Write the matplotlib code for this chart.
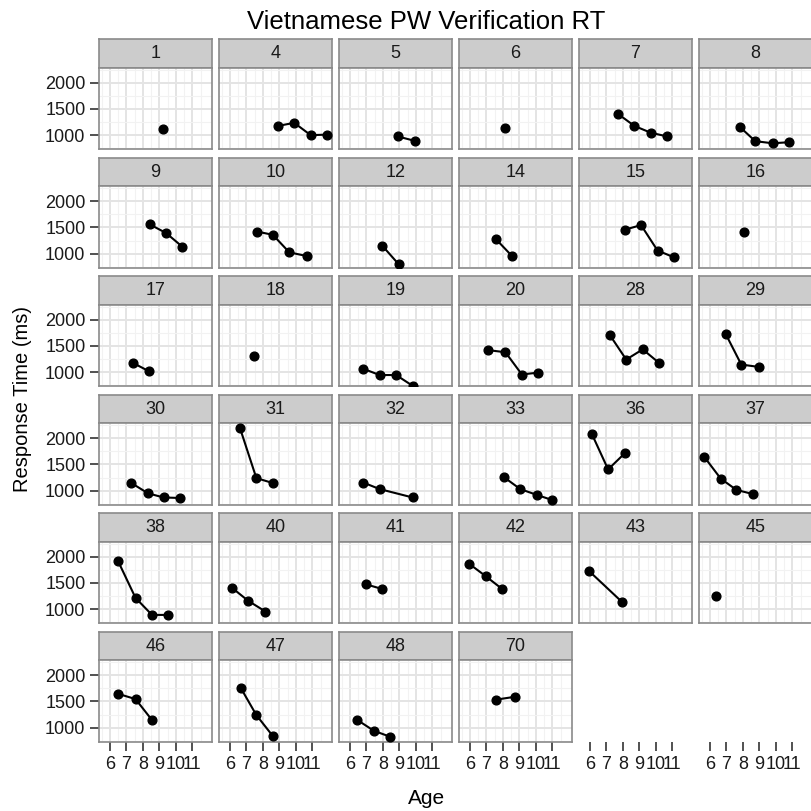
import numpy as np
import matplotlib
matplotlib.use('Agg')
import matplotlib.pyplot as plt

plt.rcParams['font.family'] = ['Liberation Sans', 'DejaVu Sans']

# --- data: one entry per child (facet) ---
panel_ids = [1, 4, 5, 6, 7, 8,
             9, 10, 12, 14, 15, 16,
             17, 18, 19, 20, 28, 29,
             30, 31, 32, 33, 36, 37,
             38, 40, 41, 42, 43, 45,
             46, 47, 48, 70]

ages = [[9.2], [8.9, 9.9, 10.9, 11.9], [8.9, 9.95], [8.1],
        [7.7, 8.7, 9.7, 10.7], [7.8, 8.75, 9.8, 10.8],
        [8.4, 9.4, 10.4], [7.65, 8.6, 9.6, 10.65], [7.95, 8.95],
        [7.55, 8.55], [8.15, 9.1, 10.1, 11.1], [8.05],
        [7.4, 8.35], [7.45], [6.8, 7.8, 8.8, 9.8],
        [7.1, 8.15, 9.15, 10.1], [7.2, 8.2, 9.2, 10.2], [6.95, 7.9, 8.95],
        [7.3, 8.3, 9.25, 10.25], [6.6, 7.6, 8.6], [6.8, 7.8, 9.8],
        [8.05, 9.05, 10.05, 11.0], [6.1, 7.1, 8.15], [5.65, 6.65, 7.6, 8.6],
        [6.5, 7.55, 8.55, 9.55], [6.15, 7.1, 8.15], [6.95, 7.95],
        [5.95, 6.95, 7.95], [5.95, 7.95], [6.35],
        [6.5, 7.55, 8.55], [6.65, 7.6, 8.6], [6.45, 7.45, 8.45], [7.6, 8.75]]

rts = [[1120], [1175, 1235, 1000, 1010], [975, 890], [1140],
       [1405, 1175, 1045, 975], [1160, 885, 845, 865],
       [1560, 1395, 1130], [1420, 1360, 1025, 955], [1155, 800],
       [1285, 955], [1460, 1545, 1060, 930], [1420],
       [1175, 1020], [1310], [1065, 945, 945, 740],
       [1420, 1380, 955, 990], [1710, 1240, 1435, 1175], [1730, 1145, 1100],
       [1145, 950, 870, 860], [2200, 1240, 1145], [1155, 1030, 870],
       [1260, 1030, 920, 820], [2090, 1405, 1725], [1645, 1230, 1015, 935],
       [1910, 1215, 890, 890], [1400, 1160, 955], [1475, 1385],
       [1865, 1630, 1385], [1725, 1135], [1245],
       [1645, 1545, 1145], [1760, 1240, 840], [1145, 940, 825], [1535, 1590]]

x_ticks = [6, 7, 8, 9, 10, 11]
y_ticks = [1000, 1500, 2000]

# --- layout (pixels) ---
W, H = 812, 811
ncol, nrow = 6, 6
left0, col_pitch, pw = 99.3, 120.0, 112.3
top0, row_pitch, strip_h, ph = 39.3, 118.5, 28.5, 81.5
xlim = (5.35, 12.17)
ylim = (730, 2285)

border = '#8a8a8a'
txt_col = '#1a1a1a'

fig = plt.figure(figsize=(W / 100, H / 100), dpi=100)


def frac(x, y, w, h):
    return [x / W, 1 - (y + h) / H, w / W, h / H]


def style_axes(ax, row, col, show_x):
    ax.set_xlim(*xlim)
    ax.set_ylim(*ylim)
    ax.set_xticks(x_ticks)
    ax.set_yticks(y_ticks)
    ax.set_xticks(np.arange(5.5, 12.5, 1.0), minor=True)
    ax.set_yticks([750, 1250, 1750, 2250], minor=True)
    ax.tick_params(which='minor', length=0)
    ax.tick_params(which='major', length=6.5, width=1.1, color='#222222',
                   labelsize=13, labelcolor=txt_col, pad=3.5)
    if not show_x:
        ax.tick_params(axis='x', which='major', length=0, labelbottom=False)
    if col != 0:
        ax.tick_params(axis='y', which='major', length=0, labelleft=False)


for i, pid in enumerate(panel_ids):
    r, c = divmod(i, ncol)
    x0 = left0 + c * col_pitch
    y0 = top0 + r * row_pitch

    # strip
    sax = fig.add_axes(frac(x0, y0, pw, strip_h))
    sax.set_facecolor('#cccccc')
    sax.set_xticks([])
    sax.set_yticks([])
    for s in sax.spines.values():
        s.set_color(border)
        s.set_linewidth(1.2)
    sax.text(0.5, 0.5, str(pid), ha='center', va='center', fontsize=13,
             color=txt_col, transform=sax.transAxes)

    # panel
    ax = fig.add_axes(frac(x0, y0 + strip_h, pw, ph))
    ax.set_facecolor('white')
    ax.set_axisbelow(True)
    ax.grid(which='major', color='#e4e4e4', linewidth=1.4)
    ax.grid(which='minor', color='#f2f2f2', linewidth=0.8)
    for s in ax.spines.values():
        s.set_color(border)
        s.set_linewidth(1.2)
    ax.plot(ages[i], rts[i], color='black', linewidth=1.5,
            marker='o', markersize=6.3, zorder=3)
    bottom_row = (r == nrow - 1)
    style_axes(ax, r, c, bottom_row)

# x axes for the empty slots in the last row
n = len(panel_ids)
for j in range(n, nrow * ncol):
    r, c = divmod(j, ncol)
    x0 = left0 + c * col_pitch
    y0 = top0 + r * row_pitch
    ax = fig.add_axes(frac(x0, y0 + strip_h, pw, ph))
    ax.patch.set_visible(False)
    for s in ax.spines.values():
        s.set_visible(False)
    style_axes(ax, r, c, True)
    ax.tick_params(axis='y', length=0, labelleft=False)

fig.text(426 / W, 1 - 29.3 / H, 'Vietnamese PW Verification RT',
         ha='center', va='baseline', fontsize=18.5, color='black')
fig.text(427 / W, 1 - 804 / H, 'Age', ha='center', va='baseline',
         fontsize=15, color='black')
fig.text(23 / W, 1 - 399 / H, 'Response Time (ms)', ha='center',
         va='center', rotation=90, fontsize=14.5, color='black')

fig.savefig('out.png', dpi=100)
